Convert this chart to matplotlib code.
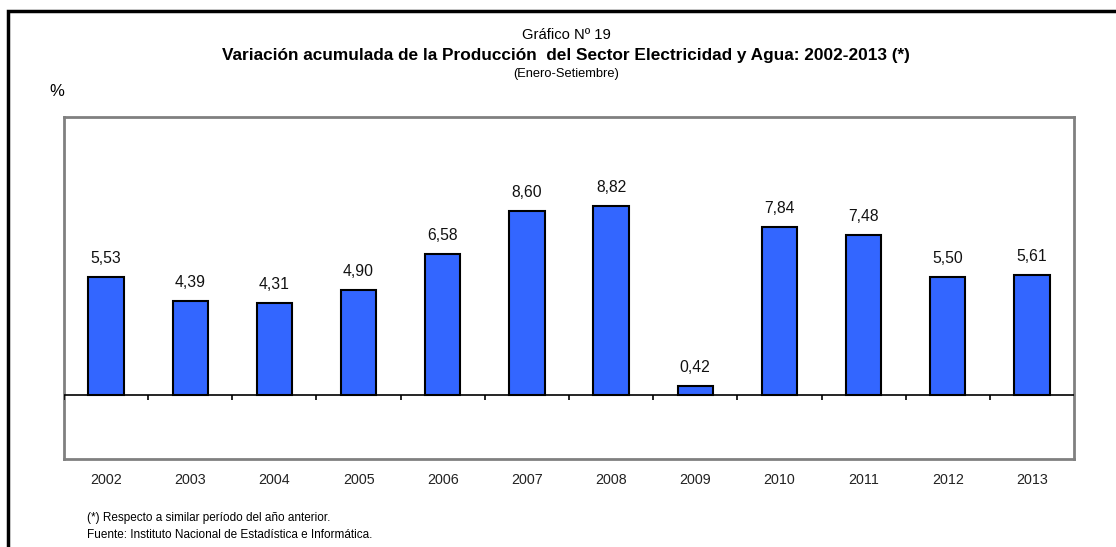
import numpy as np
import matplotlib
matplotlib.use("Agg")
import matplotlib.pyplot as plt
from matplotlib.patches import Rectangle
from matplotlib import font_manager

# data
years = ["2002", "2003", "2004", "2005", "2006", "2007",
         "2008", "2009", "2010", "2011", "2012", "2013"]
values = [5.53, 4.39, 4.31, 4.90, 6.58, 8.60, 8.82, 0.42, 7.84, 7.48, 5.50, 5.61]

title_top = "Gráfico Nº 19"
title_main = "Variación acumulada de la Producción  del Sector Electricidad y Agua: 2002-2013 (*)"
title_sub = "(Enero-Setiembre)"
notes = ["(*) Respecto a similar período del año anterior.",
         "Fuente: Instituto Nacional de Estadística e Informática."]

names = {f.name for f in font_manager.fontManager.ttflist}
narrow = "Liberation Sans Narrow" if "Liberation Sans Narrow" in names else "Liberation Sans"
regular = "Liberation Sans"

W, H = 1116, 547
fig = plt.figure(figsize=(W / 100, H / 100), dpi=100)
ax = fig.add_axes([64 / W, 1 - 459 / H, (1074 - 64) / W, (459 - 117) / H])

x = np.arange(len(years))
ax.bar(x, values, width=0.42, color="#3366FF", edgecolor="black", linewidth=1.5, zorder=3)

ax.set_xlim(-0.5, len(years) - 0.5)
ax.set_ylim(-3, 13)
ax.set_yticks([])
ax.set_xticks(x)
ax.set_xticklabels(years, family=narrow, fontsize=10.3, color="#222222")
ax.tick_params(axis="x", length=0, pad=10)

for s in ax.spines.values():
    s.set_color("#808080")
    s.set_linewidth(2)

# zero line with tick marks at category boundaries
ax.axhline(0, color="black", linewidth=1.2, zorder=4)
ax.vlines(np.arange(len(years)) - 0.5, -0.24, 0, color="black", linewidth=1.2, zorder=4)

for xi, v in zip(x, values):
    ax.annotate(f"{v:.2f}".replace(".", ","), (xi, v), xytext=(0, 8),
                textcoords="offset points", ha="center", va="bottom",
                family=regular, fontsize=11.3, color="#111111")

fig.text(566 / W, 1 - 35 / H, title_top, ha="center", va="center",
         family=narrow, fontsize=10.6)
fig.text(566 / W, 1 - 55 / H, title_main, ha="center", va="center",
         family=narrow, fontsize=12.4, fontweight="bold")
fig.text(566 / W, 1 - 74 / H, title_sub, ha="center", va="center",
         family=narrow, fontsize=9.3)
fig.text(57 / W, 1 - 92 / H, "%", ha="center", va="center",
         family=regular, fontsize=12)

fig.text(87 / W, 1 - 518 / H, notes[0], ha="left", va="center", family=narrow, fontsize=8.5)
fig.text(87 / W, 1 - 535 / H, notes[1], ha="left", va="center", family=narrow, fontsize=8.5)

# outer frame, cut off at right and bottom as in the original
fig.patches.append(Rectangle((8 / W, -0.1), 1.2, 1.1 - 11 / H, transform=fig.transFigure,
                             fill=False, edgecolor="black", linewidth=2.5))

fig.savefig("out.png", dpi=100)
